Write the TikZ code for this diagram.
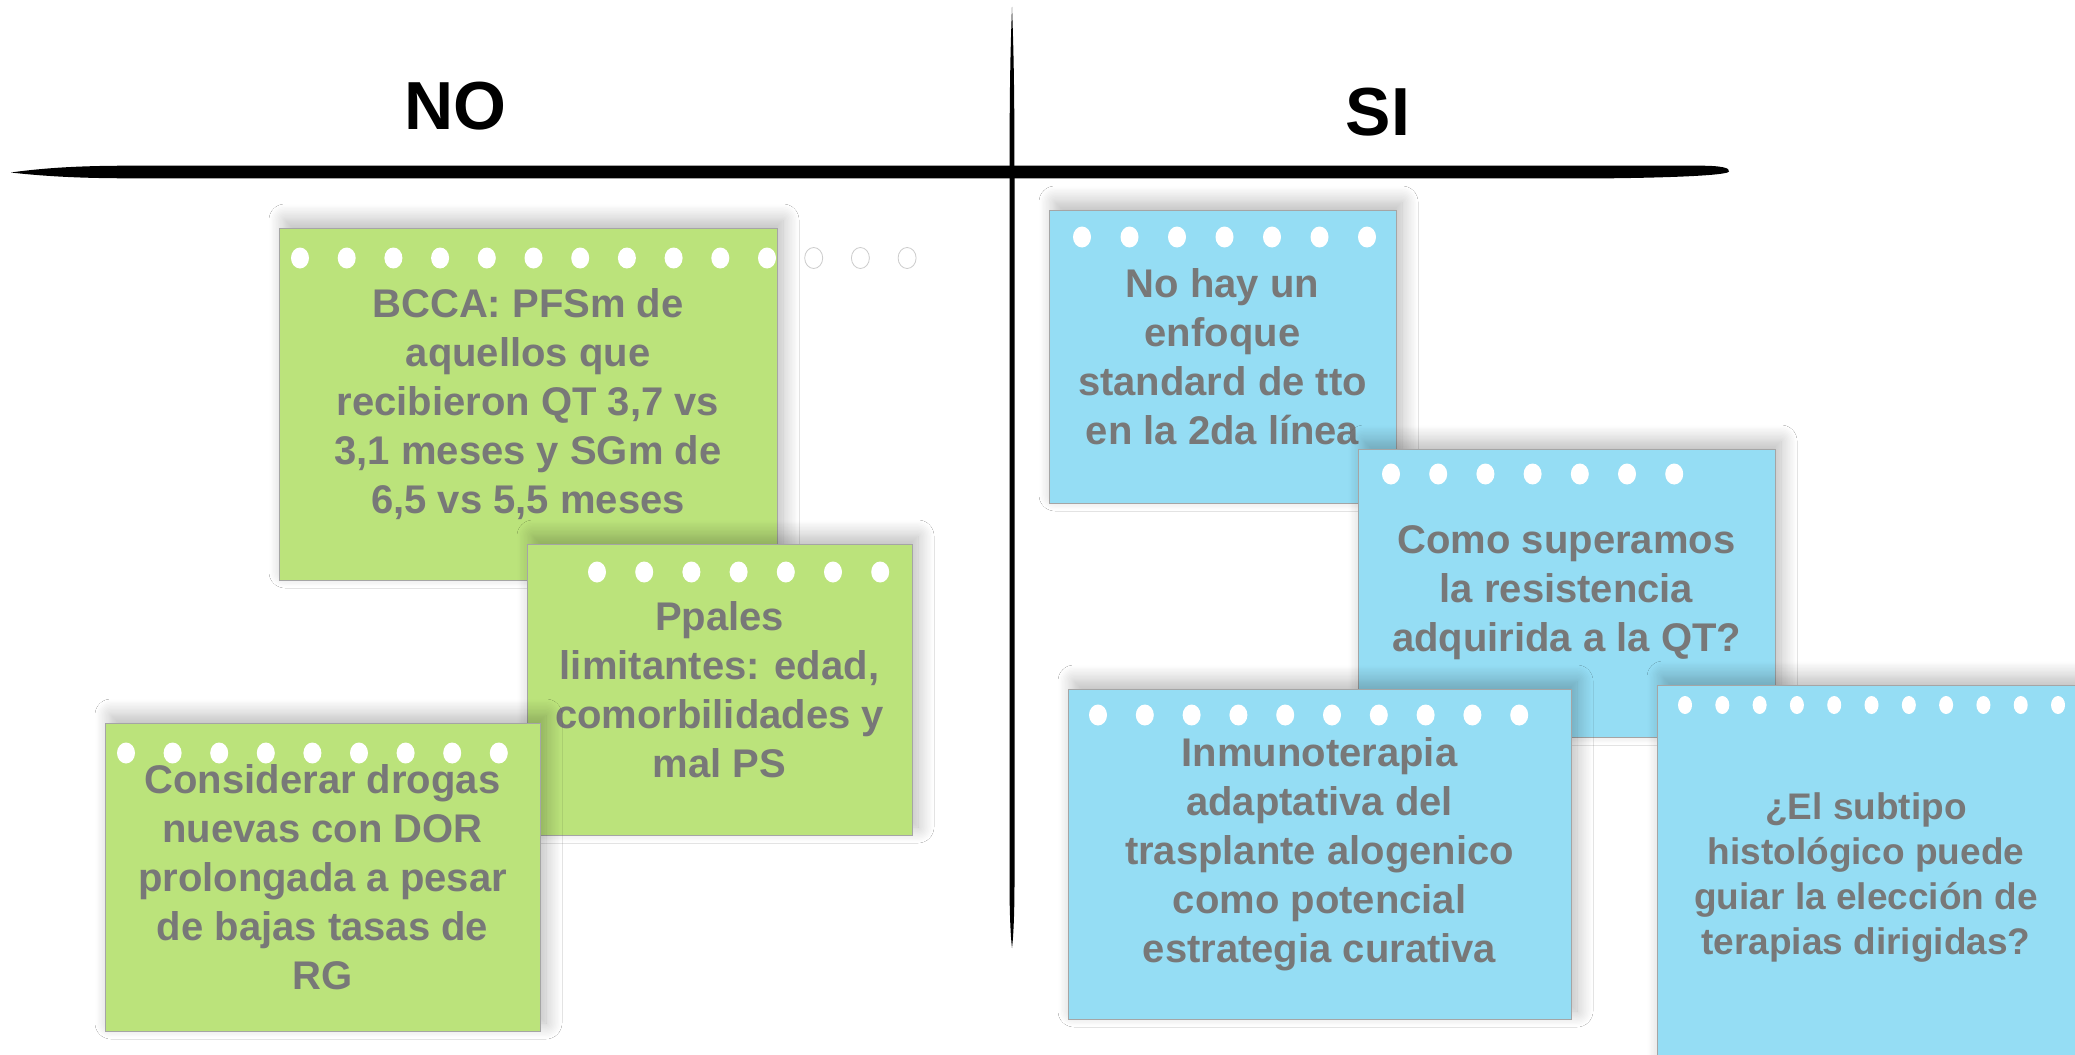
\documentclass[tikz,border=0pt]{standalone}
\usepackage{fontspec}
\setmainfont{Liberation Sans}
\usetikzlibrary{shadows.blur}
\definecolor{verdenota}{RGB}{187,227,123}
\definecolor{azulnota}{RGB}{149,221,244}
\definecolor{grisletra}{RGB}{120,120,120}
\definecolor{bordenota}{RGB}{165,165,165}

\begin{document}
\begin{tikzpicture}[x=0.5pt,y=-0.5pt,
nota/.style={draw=bordenota,line width=0.5pt,rectangle,inner sep=0pt,align=center,text=grisletra,
  font=\fontsize{20}{24.5}\selectfont\bfseries,
  blur shadow={shadow xshift=3pt,shadow yshift=4pt,shadow blur radius=8pt,shadow blur steps=12,shadow opacity=28}},
notaverde/.style={nota,fill=verdenota},
notaazul/.style={nota,fill=azulnota},
agujero/.style={fill=white},
agujerofuera/.style={fill=white,draw=gray!40,line width=0.4pt},
titulo/.style={font=\fontsize{34}{40}\selectfont\bfseries}]

\useasboundingbox (0,0) rectangle (2075,1054);
\fill[white] (0,0) rectangle (2075,1054);

% ejes
\fill (11,172.5) .. controls (50,167) and (90,165.7) .. (130,165.7) -- (1700,165.7)
  .. controls (1722,165.7) and (1730,168) .. (1729,171.5)
  .. controls (1728,175) and (1680,177.5) .. (1610,178.3) -- (130,178.3)
  .. controls (90,178.3) and (50,177) .. cycle;
\fill (1012,7) .. controls (1014,60) and (1014.5,100) .. (1014.5,200) -- (1014.5,880)
  .. controls (1014.5,920) and (1013,940) .. (1012,948)
  .. controls (1011,940) and (1009.5,920) .. (1009.5,880) -- (1009.5,200)
  .. controls (1009.5,100) and (1010,60) .. cycle;

\node[titulo] (NO) at (455,106) {NO};
\node[titulo] (SI) at (1378,112) {SI};

% notas NO
\node[notaverde,minimum width=249pt,minimum height=176pt] (N1) at (528,404)
  {BCCA: PFSm de\\aquellos que\\recibieron QT 3,7 vs\\3,1 meses y SGm de\\6,5 vs 5,5 meses};
\node[notaverde,minimum width=192.5pt,minimum height=145.5pt] (N2) at (719.5,689.5)
  {Ppales\\limitantes: edad,\\comorbilidades y\\mal PS};
\node[notaverde,minimum width=217.5pt,minimum height=154pt] (N3) at (322.5,877)
  {Considerar drogas\\nuevas con DOR\\prolongada a pesar\\de bajas tasas de\\RG};

% notas SI
\node[notaazul,minimum width=173.5pt,minimum height=146.5pt] (S1) at (1222.5,356.5)
  {No hay un\\enfoque\\standard de tto\\en la 2da línea};
\node[notaazul,minimum width=208.5pt,minimum height=144pt] (S2) at (1566.5,593)
  {Como superamos\\la resistencia\\adquirida a la QT?};
\node[notaazul,minimum width=251.5pt,minimum height=165pt] (S3) at (1319.5,854)
  {Inmunoterapia\\adaptativa del\\trasplante alogenico\\como potencial\\estrategia curativa};
\node[notaazul,minimum width=209pt,minimum height=192.5pt,font=\fontsize{18.5}{22.5}\selectfont\bfseries] (S4) at (1866,877.5)
  {¿El subtipo\\histológico puede\\guiar la elección de\\terapias dirigidas?};

% agujeros
\foreach \x/\y/\n/\d in {300/258/10/46.7, 597/572/6/47.2, 126/753/8/46.6, 1082/237/6/47.5, 1391/474/6/47.2, 1098/715/9/46.8}
  \foreach \i in {0,...,\n}
    \fill[agujero] ({\x+\i*\d},\y) ellipse [x radius=4.5pt,y radius=5.25pt];
\foreach \i in {11,12,13}
  \filldraw[agujerofuera] ({300+\i*46.7},258) ellipse [x radius=4.5pt,y radius=5.25pt];
\foreach \i in {0,...,10}
  \fill[agujero] ({1685+\i*37.3},705) ellipse [x radius=3.5pt,y radius=4.5pt];

\end{tikzpicture}
\end{document}
